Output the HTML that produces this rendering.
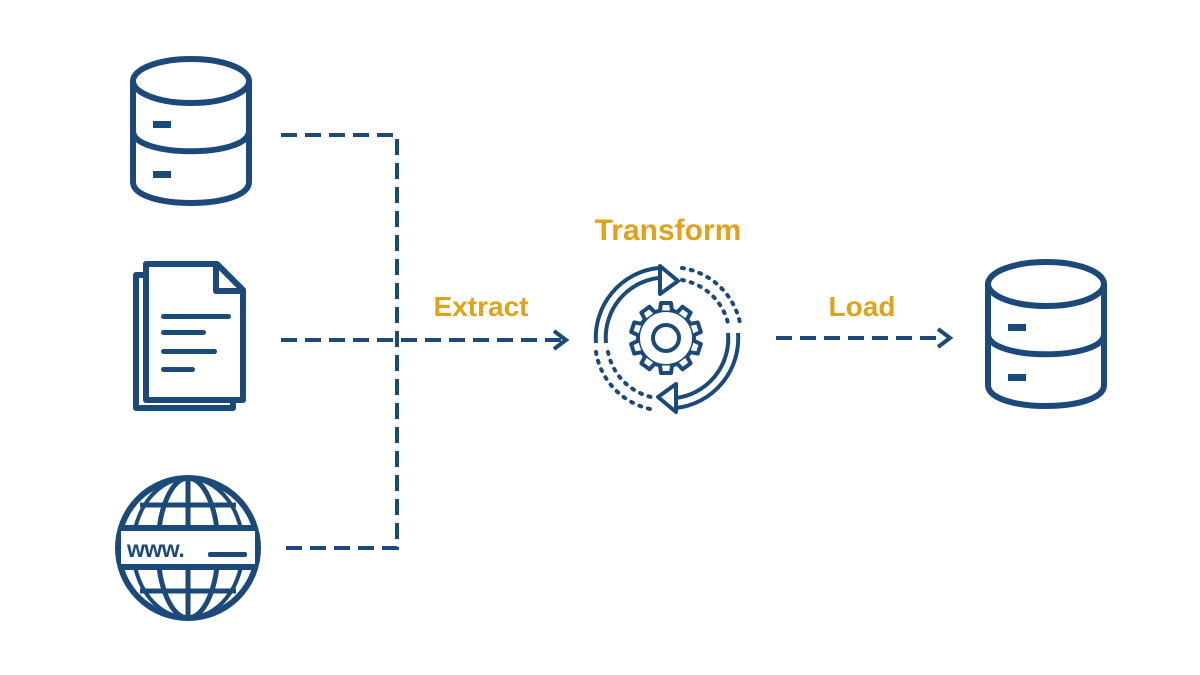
<!DOCTYPE html>
<html><head><meta charset="utf-8"><style>html,body{margin:0;padding:0;background:#fff}svg{display:block}</style></head>
<body>
<svg width="1200" height="675" viewBox="0 0 1200 675" xmlns="http://www.w3.org/2000/svg">
<defs>
  <path id="tooth" d="M-6 -27.5 L-5 -35 L5 -35 L6 -27.5" fill="#fff" stroke="#1b4a7a" stroke-width="4" stroke-linejoin="round"/>
</defs>
<g fill="none" stroke="#1b4a7a" stroke-width="6" stroke-linejoin="round">
  <!-- DB1 -->
  <ellipse cx="191" cy="81" rx="58" ry="22"/>
  <path d="M133 81 V182 C133 210 249 210 249 182 V81"/>
  <path d="M133 131 C133 158 249 158 249 131"/>
  <!-- DB2 -->
  <ellipse cx="1046" cy="284" rx="58" ry="22"/>
  <path d="M988 284 V385 C988 413 1104 413 1104 385 V284"/>
  <path d="M988 334 C988 361 1104 361 1104 334"/>
  <!-- Document -->
  <path d="M145 275 H136 V408 H233 V400"/>
  <path d="M146 264 H217 L243 290 V400 H146 Z"/>
  <path d="M216 265 V291 H243"/>
  <!-- Globe -->
  <circle cx="188" cy="548" r="70"/>
  <ellipse cx="188" cy="548" rx="30" ry="70" stroke-width="5"/>
  <ellipse cx="188" cy="548" rx="55" ry="70" stroke-width="4"/>
  <line x1="188" y1="478" x2="188" y2="618" stroke-width="5"/>
  <line x1="140" y1="505" x2="236" y2="505" stroke-width="5"/>
  <line x1="140" y1="591" x2="236" y2="591" stroke-width="5"/>
  <rect x="121" y="528" width="134" height="39" fill="#fff" stroke="none"/>
  <line x1="121" y1="528" x2="255" y2="528"/>
  <line x1="121" y1="567" x2="255" y2="567"/>
  <!-- connectors -->
  <g stroke-width="4" stroke-dasharray="16 8" stroke-linejoin="miter">
    <path d="M281 135 H397 V548 H281"/>
    <path d="M281 340 H562"/>
    <path d="M776 338 H944"/>
  </g>
  <path d="M554 331 L566 340 L554 349" stroke-width="4" stroke-linejoin="miter"/>
  <path d="M938 329 L950 338 L938 347" stroke-width="4" stroke-linejoin="miter"/>
  <!-- transform icon -->
  <g stroke-width="4">
    <path d="M596 343 A70 70 0 0 1 658 268"/>
    <path d="M606 343 A60 60 0 0 1 658 278"/>
    <path d="M660 266 L678 281 L660 294 Z"/>
    <path d="M738 333 A70 70 0 0 1 676 408"/>
    <path d="M728 333 A60 60 0 0 1 676 398"/>
    <path d="M676 384 L658 397 L676 412 Z"/>
    <path d="M682 268 A70 70 0 0 1 740 323" stroke-dasharray="2 7" stroke-linecap="round"/>
    <path d="M682 280 A58 58 0 0 1 728 323" stroke-dasharray="2 7" stroke-linecap="round"/>
    <path d="M596 352 A70 70 0 0 0 656 410" stroke-dasharray="2 7" stroke-linecap="round"/>
    <path d="M608 352 A58 58 0 0 0 656 398" stroke-dasharray="2 7" stroke-linecap="round"/>
    <circle cx="666" cy="338" r="13"/>
    <circle cx="666" cy="338" r="28"/>
  </g>
</g>
<g transform="translate(666 338)">
  <use href="#tooth" transform="rotate(0)"/>
  <use href="#tooth" transform="rotate(36)"/>
  <use href="#tooth" transform="rotate(72)"/>
  <use href="#tooth" transform="rotate(108)"/>
  <use href="#tooth" transform="rotate(144)"/>
  <use href="#tooth" transform="rotate(180)"/>
  <use href="#tooth" transform="rotate(216)"/>
  <use href="#tooth" transform="rotate(252)"/>
  <use href="#tooth" transform="rotate(288)"/>
  <use href="#tooth" transform="rotate(324)"/>
</g>
<g fill="#1b4a7a">
  <rect x="153" y="121" width="18" height="7"/>
  <rect x="153" y="171" width="18" height="7"/>
  <rect x="1008" y="324" width="18" height="7"/>
  <rect x="1008" y="374" width="18" height="7"/>
  <rect x="161" y="314" width="70" height="5" rx="2.5"/>
  <rect x="161" y="330" width="45" height="5" rx="2.5"/>
  <rect x="161" y="349" width="56" height="5" rx="2.5"/>
  <rect x="161" y="367" width="34" height="5" rx="2.5"/>
  <rect x="208" y="552" width="39" height="5" rx="2"/>
  <text x="127" y="557" font-family="Liberation Sans, sans-serif" font-weight="bold" font-size="23" letter-spacing="-0.5">www.</text>
</g>
<g font-family="Liberation Sans, sans-serif" font-weight="bold" fill="#e0a21a" text-anchor="middle">
  <text x="668" y="240" font-size="30">Transform</text>
  <text x="481" y="316" font-size="28">Extract</text>
  <text x="862" y="316" font-size="28">Load</text>
</g>
</svg>
</body></html>
